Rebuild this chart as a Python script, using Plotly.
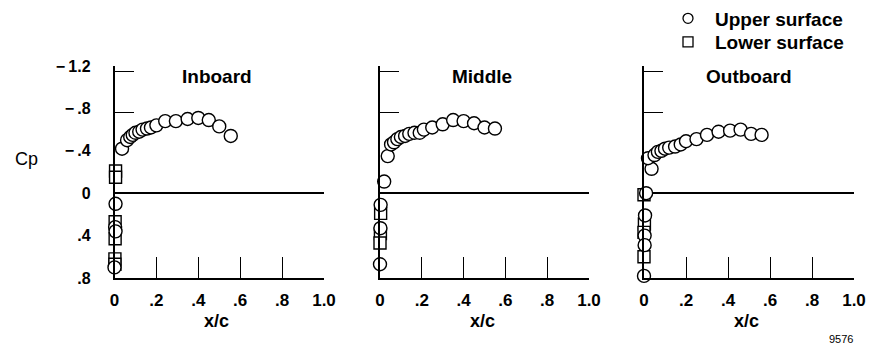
import plotly.graph_objects as go

# ---------------- data ----------------
panels = ["Inboard", "Middle", "Outboard"]

inboard_upper_x = [0.005, 0.003, 0.005, 0.0, 0.036, 0.06, 0.075, 0.087, 0.10, 0.118, 0.134, 0.155, 0.174, 0.20,
                   0.242, 0.293, 0.349, 0.40, 0.45, 0.50, 0.555]
inboard_upper_y = [0.10, 0.32, 0.36, 0.70, -0.42, -0.50, -0.53, -0.55, -0.57, -0.58, -0.60, -0.61, -0.62, -0.64,
                   -0.68, -0.68, -0.70, -0.71, -0.69, -0.63, -0.54]
inboard_lower_x = [0.005, 0.005, 0.003, 0.003, 0.002, 0.002]
inboard_lower_y = [-0.21, -0.15, 0.27, 0.43, 0.62, 0.67]

middle_upper_x = [0.003, 0.002, 0.0, 0.02, 0.037, 0.053, 0.067, 0.083, 0.10, 0.12, 0.14, 0.165, 0.19, 0.21,
                  0.25, 0.30, 0.35, 0.40, 0.45, 0.50, 0.55]
middle_upper_y = [0.11, 0.33, 0.67, -0.11, -0.35, -0.46, -0.48, -0.51, -0.53, -0.54, -0.56, -0.57, -0.57, -0.60,
                  -0.62, -0.65, -0.69, -0.68, -0.66, -0.62, -0.61]
middle_lower_x = [0.003, 0.002, 0.0, -0.002]
middle_lower_y = [0.19, 0.38, 0.47, 0.74]

outboard_upper_x = [0.01, 0.005, 0.003, 0.003, 0.0, 0.036, 0.019, 0.05, 0.066, 0.083, 0.10, 0.12, 0.148, 0.175,
                    0.20, 0.25, 0.30, 0.355, 0.41, 0.46, 0.51, 0.56]
outboard_upper_y = [0.0, 0.21, 0.40, 0.49, 0.78, -0.23, -0.33, -0.36, -0.39, -0.40, -0.42, -0.43, -0.44, -0.46,
                    -0.49, -0.51, -0.55, -0.58, -0.59, -0.60, -0.56, -0.55]
outboard_lower_x = [0.0, 0.002, 0.0, 0.0]
outboard_lower_y = [0.015, 0.29, 0.37, 0.60]

x_tickvals = [0, 0.2, 0.4, 0.6, 0.8, 1.0]
x_ticktext = ["0", ".2", ".4", ".6", ".8", "1.0"]
y_tickvals = [-1.2, -0.8, -0.4, 0, 0.4, 0.8]
y_ticktext = ["\u2212\u20091.2", "\u2212\u2009.8", "\u2212\u2009.4", "0", ".4", ".8"]
y_short_ticks = [-1.2, -0.8]

series = [
    (inboard_upper_x, inboard_upper_y, inboard_lower_x, inboard_lower_y),
    (middle_upper_x, middle_upper_y, middle_lower_x, middle_lower_y),
    (outboard_upper_x, outboard_upper_y, outboard_lower_x, outboard_lower_y),
]

# ---------------- figure ----------------
W, H = 869, 352
FONT = "Liberation Sans, Arial, Helvetica, sans-serif"
x_domains = [[114.5 / W, 324 / W], [380 / W, 589 / W], [644 / W, 854 / W]]
Y_TOP, Y_BOT = 66.0, 278.0
y_domain = [1 - Y_BOT / H, 1 - Y_TOP / H]
# overlay axis for the short top ticks: range extended a little above -1.2 so that tick is not on the edge
px_per_unit = (Y_BOT - Y_TOP) / 2.0
ov_range = [0.8, -1.25]
ov_domain = [1 - Y_BOT / H, 1 - (Y_TOP - 0.05 * px_per_unit) / H]

fig = go.Figure()
for i, (ux, uy, lx, ly) in enumerate(series):
    xa = "x" if i == 0 else f"x{i + 1}"
    ya = "y" if i == 0 else f"y{i + 1}"
    fig.add_trace(go.Scatter(
        x=lx, y=ly, xaxis=xa, yaxis=ya, mode="markers", name="Lower surface",
        showlegend=False, cliponaxis=False,
        marker=dict(symbol="square", size=12, color="white", line=dict(color="black", width=1.4))))
    fig.add_trace(go.Scatter(
        x=ux, y=uy, xaxis=xa, yaxis=ya, mode="markers", name="Upper surface",
        showlegend=False, cliponaxis=False,
        marker=dict(symbol="circle", size=13, color="white", line=dict(color="black", width=1.4))))
    # empty trace on the overlay axis carrying the short top ticks
    fig.add_trace(go.Scatter(x=[], y=[], xaxis=xa, yaxis=f"y{i + 4}", showlegend=False, hoverinfo="skip"))

# legend-only entries (smaller symbols, as in the key), each in its own legend box
fig.add_trace(go.Scatter(x=[None], y=[None], mode="markers", name="Upper surface", legend="legend",
                         marker=dict(symbol="circle", size=10, color="white", line=dict(color="black", width=1.3))))
fig.add_trace(go.Scatter(x=[None], y=[None], mode="markers", name="Lower surface", legend="legend2",
                         marker=dict(symbol="square", size=10, color="white", line=dict(color="black", width=1.3))))

leg_common = dict(xanchor="left", yanchor="middle", font=dict(family=FONT, size=19, color="black", weight="bold"),
                  bgcolor="rgba(0,0,0,0)", tracegroupgap=0, itemwidth=44)
layout = dict(
    width=W, height=H, margin=dict(l=0, r=0, t=0, b=0, autoexpand=False),
    paper_bgcolor="white", plot_bgcolor="white",
    font=dict(family=FONT, size=16, color="black", weight="bold"),
    showlegend=True,
    legend=dict(x=661 / W, y=1 - 18.5 / H, **leg_common),
    legend2=dict(x=661 / W, y=1 - 42 / H, **leg_common),
)
for i in range(3):
    xk = "xaxis" if i == 0 else f"xaxis{i + 1}"
    yk = "yaxis" if i == 0 else f"yaxis{i + 1}"
    xa_ref = "x" if i == 0 else f"x{i + 1}"
    ya_ref = "y" if i == 0 else f"y{i + 1}"
    layout[xk] = dict(domain=x_domains[i], anchor=ya_ref, range=[0, 1.0], automargin=False,
                      tickvals=x_tickvals, ticktext=x_ticktext, ticks="inside", ticklen=21,
                      tickwidth=1.2, tickcolor="black", showline=True, linecolor="black", linewidth=1.5,
                      showgrid=False, zeroline=False, ticklabelstandoff=6,
                      tickfont=dict(family=FONT, size=17, weight="bold"))
    layout[yk] = dict(domain=y_domain, anchor=xa_ref, range=[0.8, -1.2], automargin=False,
                      tickvals=y_tickvals, ticktext=y_ticktext, ticks="",
                      showticklabels=(i == 0), showline=True, linecolor="black", linewidth=1.5,
                      showgrid=False, zeroline=True, zerolinecolor="black", zerolinewidth=1.5,
                      ticklabelstandoff=19, tickfont=dict(family=FONT, size=16, weight="bold"))
    layout[f"yaxis{i + 4}"] = dict(domain=ov_domain, anchor=xa_ref, overlaying=ya_ref, range=ov_range,
                                   automargin=False,
                                   tickvals=y_short_ticks, ticks="inside", ticklen=19, tickwidth=1.2,
                                   tickcolor="black", showticklabels=False, showline=False,
                                   showgrid=False, zeroline=False)
fig.update_layout(**layout)

# panel titles and axis titles
title_x = [217, 482, 749]
xc_x = [216, 482, 746]
ann = dict(xref="paper", yref="paper", showarrow=False, xanchor="center", yanchor="middle")
for i, name in enumerate(panels):
    fig.add_annotation(text=name, x=title_x[i] / W, y=1 - 76 / H,
                       font=dict(family=FONT, size=19, weight="bold"), **ann)
    fig.add_annotation(text="x/c", x=xc_x[i] / W, y=1 - 321 / H,
                       font=dict(family=FONT, size=18, weight="bold"), **ann)

fig.add_annotation(text="Cp", x=26 / W, y=1 - 159 / H,
                   font=dict(family=FONT, size=18, weight="normal"), **ann)
fig.add_annotation(text="9576", x=841 / W, y=1 - 339 / H,
                   font=dict(family=FONT, size=11, weight="normal"), **ann)

fig.write_html("out.html", config={"displayModeBar": False},
               post_script="document.body.style.margin='0px';")
